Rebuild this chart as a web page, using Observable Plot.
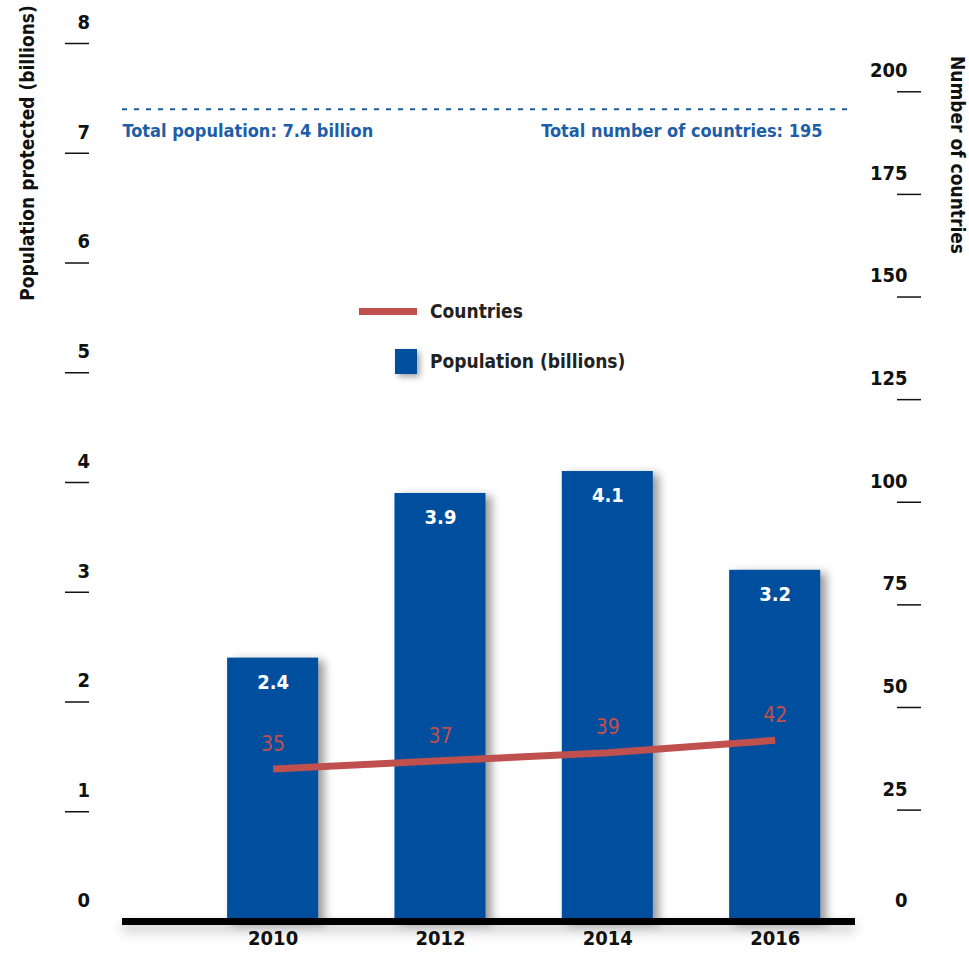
<!DOCTYPE html>
<html>
<head>
<meta charset="utf-8">
<script src="https://cdn.jsdelivr.net/npm/d3@7"></script>
<script src="https://cdn.jsdelivr.net/npm/@observablehq/plot@0.6"></script>
<style>
  html, body { margin: 0; padding: 0; background: #fff; }
  #wrap { position: relative; width: 969px; height: 958px; }
  .ff { font-family: "Liberation Sans Narrow", "DejaVu Sans Condensed", "Roboto Condensed", "Open Sans", sans-serif; font-stretch: condensed; }
  #legend { position: absolute; left: 359px; top: 296px; color: #222; font-size: 19px; font-weight: bold; }
  #legend .row { display: flex; align-items: center; height: 30px; margin-bottom: 20px; }
  #legend .sw-line { width: 58px; height: 7px; background: #c0504d; margin-right: 13px; }
  #legend .sw-box { width: 22px; height: 25px; background: #004f9f; margin-left: 36px; margin-right: 13px; box-shadow: 3px 3px 6px rgba(0,0,0,0.35); }
  .ytitle { position: absolute; white-space: nowrap; font-size: 19px; font-weight: bold; color: #111; transform-origin: center center; }
  #ytl { left: 27px; top: 153px; transform: translate(-50%, -50%) rotate(-90deg); }
  #ytr { left: 958px; top: 155px; transform: translate(-50%, -50%) rotate(90deg); }
</style>
</head>
<body>
<div id="wrap" class="ff"></div>
<script>
const years = [2010, 2012, 2014, 2016];
const population = [2.4, 3.9, 4.1, 3.2];
const countries = [35, 37, 39, 42];
const leftTicks = [0, 1, 2, 3, 4, 5, 6, 7, 8];
const rightTicks = [0, 25, 50, 75, 100, 125, 150, 175, 200];
const totalPopulation = 7.4;
const totalCountries = 195;
const leftTitle = "Population protected (billions)";
const rightTitle = "Number of countries";

const blue = "#004f9f";
const red = "#c0504d";
const refBlue = "#1d5ea8";
const font = '"Liberation Sans Narrow", "DejaVu Sans Condensed", "Roboto Condensed", "Open Sans", sans-serif';

const data = years.map((year, i) => ({year, pop: population[i], countries: countries[i]}));

// right axis (countries) expressed in the left axis units (billions)
const y2 = d3.scaleLinear().domain([0, 200]).range([0.08, 7.56]);
const barHalf = 0.544;

const chart = Plot.plot({
  width: 969,
  height: 958,
  marginLeft: 122,
  marginRight: 114,
  marginTop: 43,
  marginBottom: 37,
  style: {fontFamily: font, fontSize: "20px", color: "#111", background: "transparent"},
  x: {type: "linear", domain: [2008.2, 2016.96], axis: null},
  y: {domain: [0, 8], axis: null},
  marks: [
    // bars
    Plot.rectY(data, {x1: d => d.year - barHalf, x2: d => d.year + barHalf, y1: 0, y2: "pop", fill: blue}),
    // baseline
    Plot.ruleY([0], {stroke: "#000", strokeWidth: 7}),
    // total population dashed reference
    Plot.ruleY([totalPopulation], {stroke: refBlue, strokeWidth: 2, strokeDasharray: "5,7", insetRight: 5}),
    Plot.text([`Total population: ${totalPopulation} billion`], {y: totalPopulation, frameAnchor: "left", textAnchor: "start", dy: 22, fill: refBlue, fontWeight: "bold", fontSize: 18}),
    Plot.text([`Total number of countries: ${totalCountries}`], {y: totalPopulation, frameAnchor: "right", textAnchor: "end", dx: -33, dy: 22, fill: refBlue, fontWeight: "bold", fontSize: 18}),
    // countries line
    Plot.line(data, {x: "year", y: d => y2(d.countries), stroke: red, strokeWidth: 7, strokeLinecap: "butt"}),
    Plot.text(data, {x: "year", y: d => y2(d.countries), text: d => String(d.countries), dy: -25, fill: red, fontSize: 21}),
    // bar value labels
    Plot.text(data, {x: "year", y: "pop", text: d => d.pop.toFixed(1), dy: 24, fill: "#fff", fontWeight: "bold", fontSize: 20}),
    // left axis
    Plot.axisY(leftTicks.filter(d => d > 0), {anchor: "left", label: null, tickSize: 24, dx: -33, tickFormat: () => "", stroke: "#111", strokeWidth: 1.5}),
    Plot.text(leftTicks, {y: d => d, frameAnchor: "left", dx: -45, dy: -21, text: d => String(d), fontWeight: "bold", fontSize: 20, fill: "#111"}),
    // right axis
    Plot.axisY(rightTicks.filter(d => d > 0).map(d => y2(d)), {anchor: "right", label: null, tickSize: 24, dx: 41, tickFormat: () => "", stroke: "#111", strokeWidth: 1.5}),
    Plot.text(rightTicks, {y: d => d === 0 ? 0 : y2(d), frameAnchor: "right", dx: 52, dy: -21, text: d => String(d), fontWeight: "bold", fontSize: 20, fill: "#111"}),
    // x labels
    Plot.text(years, {x: d => d, frameAnchor: "bottom", dy: 23, text: d => String(d), fontWeight: "bold", fontSize: 20, fill: "#111"})
  ]
});

const wrap = document.getElementById("wrap");
wrap.appendChild(chart);

// drop shadows on bars and baseline
chart.querySelectorAll('g[aria-label="rect"] rect').forEach(r => {
  r.style.filter = "drop-shadow(6px 3px 5px rgba(0,0,0,0.4))";
});
chart.querySelectorAll('g[aria-label="rule"]').forEach((g, i) => {
  if (i === 0) g.style.filter = "drop-shadow(0px 6px 6px rgba(0,0,0,0.25))";
});

// axis titles
const tl = document.createElement("div");
tl.className = "ytitle"; tl.id = "ytl"; tl.textContent = leftTitle;
wrap.appendChild(tl);
const tr = document.createElement("div");
tr.className = "ytitle"; tr.id = "ytr"; tr.textContent = rightTitle;
wrap.appendChild(tr);

// legend
const legend = document.createElement("div");
legend.id = "legend";
legend.innerHTML = `
  <div class="row"><span class="sw-line"></span><span>Countries</span></div>
  <div class="row"><span class="sw-box"></span><span>Population (billions)</span></div>`;
wrap.appendChild(legend);
</script>
</body>
</html>
